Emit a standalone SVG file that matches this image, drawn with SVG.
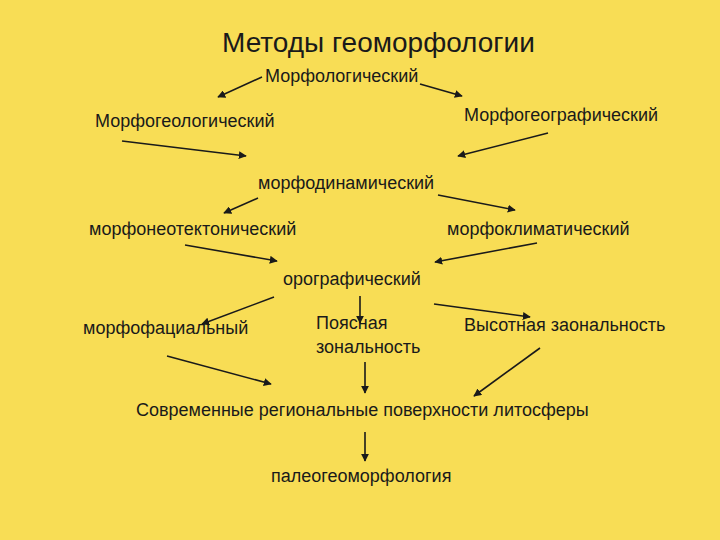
<svg xmlns="http://www.w3.org/2000/svg" width="720" height="540" viewBox="0 0 720 540">
<style>
text{font-family:"Liberation Sans",Arial,sans-serif;font-size:18px;fill:#1a1a1a}
.t{font-size:28px}
.c line{stroke:#1a1a1a;stroke-width:1.6;marker-end:url(#a)}
</style>
<defs>
<marker id="a" viewBox="0 0 10 10" refX="9" refY="5" markerWidth="5" markerHeight="5" orient="auto" markerUnits="strokeWidth">
<path d="M0,0L10,5L0,10z" fill="#1a1a1a"/>
</marker>
</defs>
<rect width="720" height="540" fill="#F8DD55"/>
<g id="title"><text class="t" x="222" y="52">Методы геоморфологии</text></g>
<g id="n1"><text x="265" y="82">Морфологический</text></g>
<g id="n2"><text x="95" y="127">Морфогеологический</text></g>
<g id="n3"><text x="464" y="121">Морфогеографический</text></g>
<g id="n4"><text x="258" y="189">морфодинамический</text></g>
<g id="n5"><text x="89" y="235">морфонеотектонический</text></g>
<g id="n6"><text x="447" y="235">морфоклиматический</text></g>
<g id="n7"><text x="283" y="285">орографический</text></g>
<g id="n8"><text x="83" y="334">морфофациальный</text></g>
<g id="n9"><text x="316" y="329">Поясная</text><text x="316" y="353">зональность</text></g>
<g id="n10"><text x="464" y="331">Высотная заональность</text></g>
<g id="n11"><text x="136" y="416">Современные региональные поверхности литосферы</text></g>
<g id="n12"><text x="271" y="482">палеогеоморфология</text></g>
<g class="c" id="connectors">
<line x1="262" y1="77" x2="218" y2="97"/>
<line x1="420" y1="84" x2="462" y2="96"/>
<line x1="122" y1="141" x2="246" y2="156"/>
<line x1="548" y1="133" x2="458" y2="156"/>
<line x1="258" y1="198" x2="224" y2="213"/>
<line x1="438" y1="195" x2="515" y2="210"/>
<line x1="185" y1="245" x2="277" y2="261"/>
<line x1="537" y1="243" x2="435" y2="262"/>
<line x1="274" y1="297" x2="202" y2="324"/>
<line x1="360" y1="296" x2="360" y2="323"/>
<line x1="434" y1="304" x2="530" y2="317"/>
<line x1="167" y1="356" x2="271" y2="384"/>
<line x1="365" y1="362" x2="365" y2="393"/>
<line x1="540" y1="348" x2="474" y2="396"/>
<line x1="365" y1="432" x2="365" y2="461"/>
</g>
</svg>
